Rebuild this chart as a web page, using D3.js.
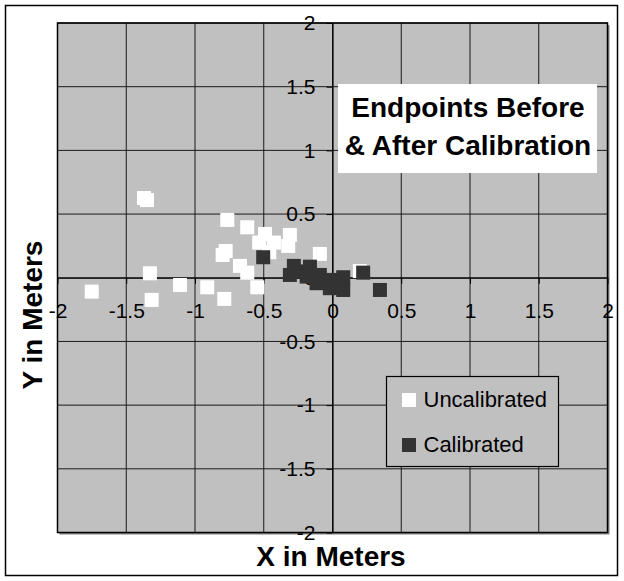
<!DOCTYPE html>
<html>
<head>
<meta charset="utf-8">
<script src="https://cdn.jsdelivr.net/npm/d3@7"></script>
<style>
  body { margin: 0; background: #fff; }
  svg { display: block; font-family: "Liberation Sans", Arial, sans-serif; }
</style>
</head>
<body>
<div id="chart"></div>
<script>
// values
const uncalibrated = [
  [-1.371, 0.626], [-1.349, 0.61], [-1.328, 0.035], [-1.751, -0.109],
  [-1.315, -0.174], [-1.109, -0.057], [-0.911, -0.075], [-0.787, -0.166],
  [-0.765, 0.454], [-0.62, 0.396], [-0.777, 0.21], [-0.799, 0.179],
  [-0.673, 0.093], [-0.62, 0.04], [-0.547, -0.075], [-0.491, 0.344],
  [-0.533, 0.276], [-0.426, 0.276], [-0.31, 0.336], [-0.322, 0.25],
  [-0.46, 0.2], [-0.092, 0.187], [0.199, 0.053],
];
const calibrated = [
  [-0.504, 0.161], [-0.281, 0.093], [-0.31, 0.022], [-0.23, 0.05],
  [-0.164, 0.087], [-0.188, 0.009], [-0.092, 0.022], [-0.116, -0.043],
  [0.005, -0.017], [-0.019, -0.082], [0.078, 0.004], [0.078, -0.096],
  [0.223, 0.04], [0.345, -0.096],
];
const seriesNames = ['Uncalibrated', 'Calibrated'];
const seriesColors = ['#ffffff', '#333333'];
const tickValues = [-2, -1.5, -1, -0.5, 0, 0.5, 1, 1.5, 2];
const titleLines = ['Endpoints Before', '& After Calibration'];

const W = 624;
const H = 581;
const plot = { left: 57.5, top: 23, right: 607.5, bottom: 532.5 };
const markerSize = 14;

const svg = d3.select('#chart').append('svg').attr('width', W).attr('height', H);

// chart frame
svg.append('rect')
  .attr('x', 5.5).attr('y', 5.5)
  .attr('width', 612).attr('height', 570)
  .attr('fill', '#fff')
  .attr('stroke', '#000')
  .attr('stroke-width', 1.5);

const x = d3.scaleLinear().domain([-2, 2]).range([plot.left, plot.right]);
const y = d3.scaleLinear().domain([-2, 2]).range([plot.bottom, plot.top]);

// plot area with its little shadow
svg.append('rect')
  .attr('x', plot.left + 2).attr('y', plot.top + 2)
  .attr('width', plot.right - plot.left).attr('height', plot.bottom - plot.top)
  .attr('fill', '#808080');
svg.append('rect')
  .attr('x', plot.left).attr('y', plot.top)
  .attr('width', plot.right - plot.left).attr('height', plot.bottom - plot.top)
  .attr('fill', '#c0c0c0');

// gridlines
svg.append('g').selectAll('line')
  .data(tickValues).enter().append('line')
  .attr('x1', (d) => x(d)).attr('x2', (d) => x(d))
  .attr('y1', plot.top).attr('y2', plot.bottom)
  .attr('stroke', '#1a1a1a').attr('stroke-width', 1);
svg.append('g').selectAll('line')
  .data(tickValues).enter().append('line')
  .attr('y1', (d) => y(d)).attr('y2', (d) => y(d))
  .attr('x1', plot.left).attr('x2', plot.right)
  .attr('stroke', '#1a1a1a').attr('stroke-width', 1);

svg.append('rect')
  .attr('x', plot.left).attr('y', plot.top)
  .attr('width', plot.right - plot.left).attr('height', plot.bottom - plot.top)
  .attr('fill', 'none')
  .attr('stroke', '#000')
  .attr('stroke-width', 1.5);

// axes through the origin
const fmt = (d) => String(d);
const xAxis = svg.append('g')
  .attr('transform', `translate(0,${y(0)})`)
  .call(d3.axisBottom(x).tickValues(tickValues).tickFormat(fmt)
    .tickSize(6).tickSizeOuter(0).tickPadding(19));
const yAxis = svg.append('g')
  .attr('transform', `translate(${x(0)},0)`)
  .call(d3.axisLeft(y).tickValues(tickValues).tickFormat(fmt)
    .tickSize(6).tickSizeOuter(0).tickPadding(11));

[xAxis, yAxis].forEach((g) => {
  g.select('.domain').attr('stroke', '#000').attr('stroke-width', 1.2);
  g.selectAll('.tick line').attr('stroke', '#000');
  g.selectAll('.tick text')
    .attr('fill', '#000')
    .style('font-size', '21px')
    .style('font-family', '"Liberation Sans", Arial, sans-serif');
});

// points
const allSeries = [uncalibrated, calibrated];
allSeries.forEach((pts, i) => {
  svg.append('g').selectAll('rect')
    .data(pts).enter().append('rect')
    .attr('x', (d) => x(d[0]) - markerSize / 2)
    .attr('y', (d) => y(d[1]) - markerSize / 2)
    .attr('width', markerSize)
    .attr('height', markerSize)
    .attr('fill', seriesColors[i]);
});

// title box
svg.append('rect')
  .attr('x', 338).attr('y', 84)
  .attr('width', 259).attr('height', 89)
  .attr('fill', '#fff');
svg.append('g').selectAll('text')
  .data(titleLines).enter().append('text')
  .attr('x', 468)
  .attr('y', (d, i) => 117 + i * 38)
  .attr('text-anchor', 'middle')
  .style('font-size', '28px')
  .style('font-weight', 'bold')
  .text((d) => d);

// legend
const legend = svg.append('g');
legend.append('rect')
  .attr('x', 386.5).attr('y', 376.5)
  .attr('width', 172).attr('height', 90)
  .attr('fill', '#c0c0c0')
  .attr('stroke', '#000')
  .attr('stroke-width', 1.2);
const items = legend.selectAll('g')
  .data(seriesNames).enter().append('g')
  .attr('transform', (d, i) => `translate(0,${400 + i * 45})`);
items.append('rect')
  .attr('x', 402).attr('y', -7)
  .attr('width', markerSize).attr('height', markerSize)
  .attr('fill', (d, i) => seriesColors[i]);
items.append('text')
  .attr('x', 423.5).attr('y', 6.5)
  .style('font-size', '22px')
  .text((d) => d);

// axis titles
svg.append('text')
  .attr('x', 331).attr('y', 566)
  .attr('text-anchor', 'middle')
  .style('font-size', '28px')
  .style('font-weight', 'bold')
  .text('X in Meters');
svg.append('text')
  .attr('transform', 'translate(41.5,315) rotate(-90)')
  .attr('text-anchor', 'middle')
  .style('font-size', '28px')
  .style('font-weight', 'bold')
  .text('Y in Meters');
</script>
</body>
</html>
